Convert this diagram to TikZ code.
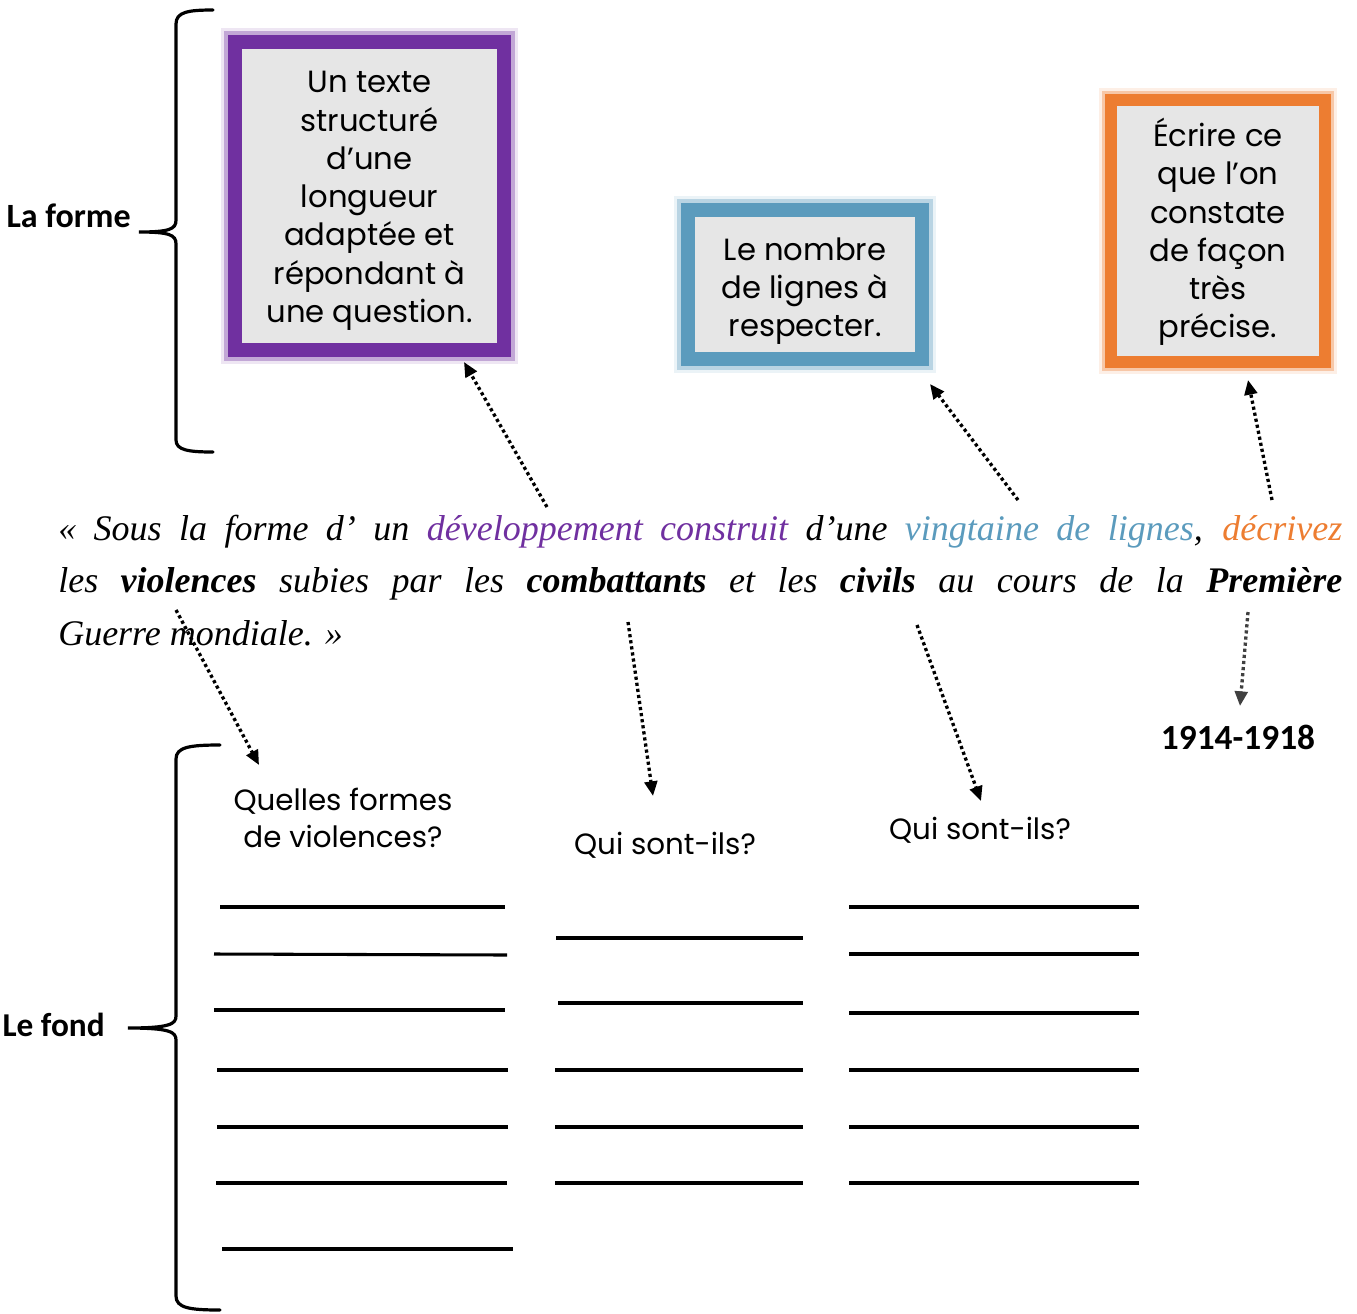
\documentclass[tikz,border=0pt]{standalone}
\usepackage{fontspec}
\setmainfont{Poppins}
\newfontfamily\calib{Carlito}
\newfontfamily\curs{Liberation Serif}
\usetikzlibrary{arrows.meta}
\definecolor{cpurple}{HTML}{7030A0}
\definecolor{cblue}{HTML}{5B9BBD}
\definecolor{corange}{HTML}{ED7D31}
\definecolor{cgray}{HTML}{E6E6E6}
\definecolor{cdark}{HTML}{404040}
\tikzset{
  boxtxt/.style={align=center, inner sep=0pt, font=\fontsize{23}{28.7}\selectfont},
  framebox/.style={fill=cgray, draw=#1, inner sep=0pt},
  glowa/.style={draw=#1, draw opacity=0.35},
  glowb/.style={draw=#1, draw opacity=0.12},
  arr/.style={line width=2.5pt, dash pattern=on 2.4pt off 2.2pt, -{Triangle[length=11pt,width=9.5pt]}},
  bracelab/.style={inner sep=0pt},
  brace/.style={line width=2.4pt, line cap=round},
  qtxt/.style={align=center, inner sep=0pt, font=\fontsize{22}{27.75}\selectfont},
  wline/.style={line width=2.3pt},
  cursline/.style={anchor=base west, inner sep=0pt, font=\curs\itshape\fontsize{27}{39}\selectfont}
}
\begin{document}
\begin{tikzpicture}[x=0.75pt,y=-0.75pt]
\useasboundingbox (0,0) rectangle (1357,1314);

% ---------- La forme brace ----------
\node[bracelab, anchor=east, font=\calib\bfseries\fontsize{25.5}{28}\selectfont] (forme) at (131,216) {La forme};
\draw[brace] (213,10) .. controls (188,10) and (176,12) .. (176,24) -- (176,220)
  .. controls (176,229) and (170,232) .. (139,232)
  .. controls (170,232) and (176,235) .. (176,244) -- (176,440)
  .. controls (176,450) and (188,452) .. (213,452);

% ---------- boxes ----------
\draw[glowb=cpurple, line width=21pt] (235,42) rectangle (504,350);
\draw[glowa=cpurple, line width=17pt] (235,42) rectangle (504,350);
\node[framebox=cpurple, line width=10.5pt, minimum width=201.75pt, minimum height=231pt] (purple) at (369.5,196) {};
\node[boxtxt] (purpletxt) at (369.5,201)
  {Un texte\\structuré\\d’une\\longueur\\adaptée et\\répondant à\\une question.};

\draw[glowb=cblue, line width=21pt] (688,210) rectangle (922,359);
\draw[glowa=cblue, line width=17pt] (688,210) rectangle (922,359);
\node[framebox=cblue, line width=10.5pt, minimum width=175.5pt, minimum height=111.75pt] (blue) at (805,284.5) {};
\node[boxtxt] (bluetxt) at (805,291) {Le nombre\\de lignes à\\respecter.};

\draw[glowb=corange, line width=18pt] (1111,100) rectangle (1325,362);
\draw[glowa=corange, line width=14pt] (1111,100) rectangle (1325,362);
\node[framebox=corange, line width=8.5pt, minimum width=160.5pt, minimum height=196.5pt] (orange) at (1218,231) {};
\node[boxtxt] (orangetxt) at (1218,232)
  {Écrire ce\\que l’on\\constate\\de façon\\très\\précise.};

% ---------- consigne ----------
\node[cursline] (l1) at (58,540) {\makebox[963pt][s]{« Sous la forme d’ un \textcolor{cpurple}{développement construit} d’une \textcolor{cblue}{vingtaine de lignes}, \textcolor{corange}{décrivez}}};
\node[cursline] (l2) at (58,592) {\makebox[963pt][s]{les \textbf{violences} subies par les \textbf{combattants} et les \textbf{civils} au cours de la \textbf{Première}}};
\node[cursline] (l3) at (58,645) {Guerre mondiale. »};

% ---------- arrows ----------
\coordinate (s1) at (547,507); \coordinate (e1) at (464,362);
\coordinate (s2) at (1018,500); \coordinate (e2) at (930,384);
\coordinate (s3) at (1272,500); \coordinate (e3) at (1248,380);
\coordinate (s4) at (1248,612); \coordinate (e4) at (1240,706);
\coordinate (s5) at (176,610); \coordinate (e5) at (259,765);
\coordinate (s6) at (628,622); \coordinate (e6) at (653,796);
\coordinate (s7) at (917,625); \coordinate (e7) at (981,801);
\draw[arr] (s1) -- (e1);
\draw[arr] (s2) -- (e2);
\draw[arr] (s3) -- (e3);
\draw[arr, cdark] (s4) -- (e4);
\draw[arr] (s5) -- (e5);
\draw[arr] (s6) -- (e6);
\draw[arr] (s7) -- (e7);

\node[font=\calib\bfseries\fontsize{26.5}{30}\selectfont, inner sep=0pt] (date) at (1238,737) {1914-1918};

% ---------- Le fond brace ----------
\node[bracelab, anchor=east, font=\calib\bfseries\fontsize{25}{28}\selectfont] (fond) at (105,1025) {Le fond};
\draw[brace] (220,745) .. controls (190,745) and (176,747) .. (176,759) -- (176,1016)
  .. controls (176,1024) and (170,1028) .. (128,1028)
  .. controls (170,1028) and (176,1032) .. (176,1040) -- (176,1296)
  .. controls (176,1308) and (190,1310) .. (220,1310);

% ---------- questions ----------
\node[qtxt] (q1) at (343,818) {Quelles formes\\de violences?};
\node[qtxt] (q2) at (665,845) {Qui sont-ils?};
\node[qtxt] (q3) at (980,830) {Qui sont-ils?};

% ---------- writing lines ----------
\draw[wline] (220,907) -- (505,907);
\draw[wline] (214,954) -- (507,955);
\draw[wline] (214,1010) -- (505,1010);
\draw[wline] (217,1070) -- (508,1070);
\draw[wline] (217,1127) -- (508,1127);
\draw[wline] (216,1183) -- (507,1183);
\draw[wline] (222,1249) -- (513,1249);

\draw[wline] (556,938) -- (803,938);
\draw[wline] (558,1003) -- (803,1003);
\draw[wline] (555,1070) -- (803,1070);
\draw[wline] (555,1127) -- (803,1127);
\draw[wline] (555,1183) -- (803,1183);

\draw[wline] (849,907) -- (1139,907);
\draw[wline] (849,954) -- (1139,954);
\draw[wline] (849,1013) -- (1139,1013);
\draw[wline] (849,1070) -- (1139,1070);
\draw[wline] (849,1127) -- (1139,1127);
\draw[wline] (849,1183) -- (1139,1183);
\end{tikzpicture}
\end{document}
